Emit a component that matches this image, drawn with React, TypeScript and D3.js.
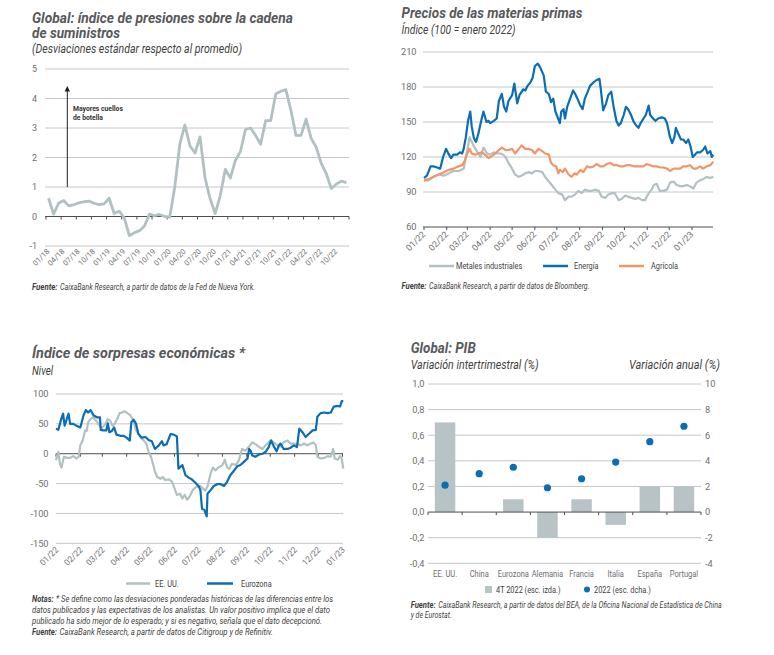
import * as d3 from "d3"

const FONT = "Roboto, 'Noto Sans', sans-serif"
const TITLE = "#58595b"
const DARK = "#3f3f41"
const TEXT = "#6d6e71"
const GRID = "#c4c6c8"
const AXIS = "#4d4d4f"
const BLUE = "#0b6db5"
const ORANGE = "#f2956a"
const GREY_LINE = "#b3c0c2"
const BAR = "#b8c3c5"

// ---------- Global supply chain pressure (monthly, 01/18 - 12/22) ----------
const gscpiValues = [
  0.62, 0.08, 0.45, 0.54, 0.36, 0.4, 0.46, 0.5, 0.52, 0.45, 0.4, 0.43,
  0.62, 0.1, 0.18, -0.05, -0.65, -0.55, -0.48, -0.32, 0.08, 0.03, 0.07, 0.0,
  -0.02, 1.0, 2.45, 3.1, 2.4, 2.15, 2.7, 1.3, 0.6, 0.1, 0.7, 1.6,
  1.3, 1.9, 2.2, 2.95, 3.0, 2.75, 2.45, 3.25, 3.25, 4.15, 4.25, 4.3,
  3.6, 2.75, 2.75, 3.3, 2.65, 2.35, 1.8, 1.45, 0.95, 1.1, 1.2, 1.15,
]
const gscpiTickLabels = [
  "01/18", "04/18", "07/18", "10/18", "01/19", "04/19", "07/19", "10/19",
  "01/20", "04/20", "07/20", "10/20", "01/21", "04/21", "07/21", "10/21",
  "01/22", "04/22", "07/22", "10/22",
]
const gscpiYTicks = [-1, 0, 1, 2, 3, 4, 5]

// ---------- Commodity prices, [days since 1 Jan 2022, index] ----------
const energia: [number, number][] = [
  [0, 102], [4, 104], [9, 112], [13, 112], [18, 111], [22, 110], [26, 120], [30, 127], [34, 122],
  [37, 119], [40, 122], [45, 122], [49, 124], [52, 123], [54, 127], [57, 137], [60, 151], [63, 159],
  [65, 146], [68, 136], [71, 133], [74, 140], [79, 154], [81, 159], [85, 150], [88, 151], [90, 149],
  [95, 151], [99, 153], [102, 168], [106, 174], [109, 163], [112, 159], [115, 168], [120, 173],
  [123, 183], [127, 166], [130, 173], [135, 178], [138, 177], [141, 181], [145, 184], [148, 188],
  [151, 198], [155, 200], [158, 197], [163, 190], [166, 176], [170, 174], [173, 167], [176, 170],
  [179, 159], [182, 154], [185, 149], [187, 159], [190, 161], [192, 153], [195, 163], [199, 170],
  [203, 177], [206, 174], [209, 170], [213, 164], [216, 161], [219, 170], [223, 176], [226, 181],
  [231, 184], [235, 186], [239, 187], [241, 177], [244, 160], [248, 166], [251, 173], [255, 176],
  [258, 164], [262, 151], [265, 147], [268, 149], [272, 156], [275, 163], [278, 161], [282, 156],
  [285, 151], [289, 147], [292, 145], [295, 149], [299, 153], [302, 156], [306, 164], [308, 156],
  [312, 153], [315, 151], [319, 153], [324, 154], [328, 153], [331, 149], [335, 137], [338, 132],
  [341, 137], [343, 145], [347, 139], [350, 135], [353, 135], [357, 132], [360, 135], [363, 129],
  [366, 120], [369, 122], [372, 124], [376, 124], [380, 126], [383, 129], [386, 123], [390, 125],
  [392, 120], [394, 122],
]
const agricola: [number, number][] = [
  [0, 100], [6, 101], [13, 103], [20, 105], [27, 107], [34, 109], [40, 110], [47, 112], [52, 113],
  [55, 116], [59, 123], [62, 127], [65, 123], [70, 122], [74, 123], [79, 124], [83, 122], [88, 119],
  [93, 121], [97, 123], [102, 126], [106, 128], [111, 126], [115, 126], [120, 127], [124, 123],
  [129, 127], [133, 130], [138, 127], [142, 127], [147, 126], [151, 123], [156, 127], [161, 125],
  [165, 123], [170, 122], [173, 115], [176, 113], [180, 112], [183, 106], [185, 109], [189, 107],
  [192, 110], [197, 105], [201, 103], [205, 106], [208, 105], [213, 109], [217, 107], [222, 112],
  [226, 111], [231, 112], [235, 114], [240, 112], [244, 112], [249, 114], [254, 115], [258, 113],
  [263, 113], [267, 112], [272, 112], [276, 113], [281, 113], [285, 112], [290, 112], [294, 112],
  [299, 112], [303, 114], [308, 113], [312, 112], [317, 112], [322, 111], [326, 111], [331, 110],
  [335, 108], [340, 110], [344, 110], [349, 110], [353, 112], [358, 112], [362, 113], [367, 110],
  [371, 110], [376, 112], [380, 110], [385, 112], [390, 113], [394, 116],
]
const metales: [number, number][] = [
  [0, 100], [6, 100], [13, 103], [20, 105], [27, 104], [34, 106], [40, 108], [47, 108], [54, 110],
  [59, 126], [62, 137], [65, 133], [68, 129], [72, 125], [77, 120], [81, 128], [86, 123], [90, 122],
  [95, 124], [99, 123], [104, 123], [108, 122], [112, 119], [115, 115], [120, 110], [124, 105],
  [129, 103], [133, 104], [138, 106], [142, 107], [147, 106], [151, 108], [156, 108], [161, 107],
  [165, 103], [170, 99], [174, 96], [179, 92], [183, 89], [188, 88], [192, 83], [197, 86], [201, 86],
  [206, 88], [210, 91], [215, 89], [219, 92], [224, 91], [229, 91], [233, 92], [238, 91], [242, 86],
  [247, 85], [251, 88], [256, 89], [260, 89], [265, 83], [269, 84], [274, 87], [278, 86], [283, 85],
  [288, 84], [292, 85], [297, 83], [301, 83], [306, 89], [310, 92], [313, 96], [317, 97], [321, 91],
  [326, 91], [331, 92], [335, 98], [340, 99], [344, 96], [349, 95], [353, 95], [358, 96], [362, 95],
  [367, 93], [371, 98], [376, 100], [380, 101], [385, 103], [390, 102], [394, 103],
]
const monthTickLabels = [
  "01/22", "02/22", "03/22", "04/22", "05/22", "06/22", "07/22",
  "08/22", "09/22", "10/22", "11/22", "12/22", "01/23",
]
const commodityYTicks = [60, 90, 120, 150, 180, 210]

// ---------- Economic surprise index, [days since 1 Jan 2022, level] ----------
const eurozona: [number, number][] = [
  [0, 42], [3, 40], [6, 55], [9, 67], [11, 47], [16, 67], [18, 50], [22, 50], [26, 47], [31, 44],
  [35, 64], [38, 73], [41, 69], [44, 73], [48, 64], [52, 61], [56, 61], [57, 40], [60, 39], [64, 39],
  [66, 51], [68, 36], [71, 38], [74, 44], [77, 32], [82, 30], [86, 30], [90, 27], [94, 22], [96, 53],
  [99, 57], [102, 50], [105, 33], [109, 27], [114, 28], [118, 23], [122, 21], [126, 8], [131, 14],
  [135, 21], [137, 14], [141, 16], [146, 33], [150, 32], [154, 29], [156, -25], [161, -19], [165, -36],
  [169, -40], [173, -43], [178, -49], [182, -55], [184, -61], [186, -92], [189, -94], [192, -105],
  [193, -67], [197, -61], [201, -54], [205, -51], [210, -51], [214, -54], [218, -47], [222, -36],
  [227, -28], [231, -21], [235, -19], [239, -14], [244, -8], [246, 8], [248, 5], [250, -3], [254, -5],
  [259, -1], [263, 0], [267, 3], [271, 11], [274, 22], [278, 11], [281, 4], [284, 14], [286, 17],
  [290, 8], [295, 8], [299, 10], [303, 14], [307, 11], [310, 42], [314, 36], [318, 28], [322, 33],
  [327, 39], [331, 40], [333, 62], [337, 68], [342, 69], [346, 68], [350, 69], [354, 79], [359, 80],
  [362, 79], [364, 88], [366, 88],
]
const eeuu: [number, number][] = [
  [0, -11], [3, 3], [5, -17], [7, -23], [10, -5], [14, -7], [18, -7], [22, -4], [26, -8], [29, -5],
  [31, 14], [34, 22], [37, 39], [39, 38], [41, 53], [44, 58], [47, 61], [50, 57], [54, 50], [58, 42],
  [63, 50], [66, 58], [69, 55], [72, 47], [75, 51], [78, 58], [81, 68], [84, 69], [87, 71], [90, 69],
  [95, 64], [99, 54], [102, 39], [105, 34], [108, 27], [112, 22], [115, 17], [118, 3], [121, -5],
  [124, -19], [126, -30], [129, -39], [133, -42], [136, -39], [139, -44], [144, -43], [148, -47],
  [151, -58], [154, -69], [158, -67], [161, -75], [164, -69], [167, -77], [170, -72], [173, -64],
  [176, -58], [180, -55], [184, -54], [187, -58], [190, -62], [193, -55], [197, -33], [200, -23],
  [203, -28], [207, -23], [212, -19], [215, -10], [218, -23], [221, -25], [224, -17], [229, -19],
  [233, -11], [237, 8], [241, 5], [246, 12], [250, 19], [254, 16], [259, 11], [263, 8], [267, 14],
  [271, 19], [274, 23], [278, 18], [282, 14], [286, 12], [290, 19], [295, 22], [299, 17], [303, 17],
  [307, 16], [312, 14], [316, 17], [320, 14], [325, 17], [328, 19], [331, 14], [333, -5], [337, -8],
  [342, -7], [346, -4], [350, -5], [353, 8], [355, -8], [359, -10], [362, -4], [364, -8], [366, -25],
]
const surpriseYTicks = [-150, -100, -50, 0, 50, 100]

// ---------- GDP ----------
const countries = ["EE. UU.", "China", "Eurozona", "Alemania", "Francia", "Italia", "España", "Portugal"]
const gdpQuarter = [0.7, 0.0, 0.1, -0.2, 0.1, -0.1, 0.2, 0.2]
const gdpYear = [2.1, 3.0, 3.5, 1.9, 2.6, 3.9, 5.5, 6.7]
const gdpLeftTicks = [-0.4, -0.2, 0, 0.2, 0.4, 0.6, 0.8, 1.0]
const gdpLeftLabels = ["-0,4", "-0,2", "0,0", "0,2", "0,4", "0,6", "0,8", "1,0"]
const gdpRightTicks = [-4, -2, 0, 2, 4, 6, 8, 10]

const day0 = new Date(2022, 0, 1)
const dayToDate = (d: number) => d3.timeDay.offset(day0, d)

// horizontally condensed text (the original typeface is narrow)
function NText({ x, y, w, s = 0.82, anchor = "start", children, ...rest }: any) {
  return (
    <text transform={`translate(${x},${y}) scale(${s},1)`} textAnchor={anchor}
      textLength={w ? w / s : undefined} lengthAdjust={w ? "spacingAndGlyphs" : undefined} {...rest}>
      {children}
    </text>
  )
}

function Title({ x, y, w, children }: any) {
  return <NText x={x} y={y} w={w} fontSize={14.5} fontWeight={700} fontStyle="italic" fill={TITLE}>{children}</NText>
}

function Sub({ x, y, w, children, anchor = "start" }: any) {
  return <NText x={x} y={y} w={w} anchor={anchor} fontSize={12} fontStyle="italic" fill={DARK}>{children}</NText>
}

// source / notes line: optional bold lead word, then the rest
function Note({ x, y, w, bold, bw = 25, children }: any) {
  const off = bold ? bw + 2.5 : 0
  return (
    <g>
      {bold && <NText x={x} y={y} w={bw} fontSize={9} fontWeight={700} fontStyle="italic" fill={DARK}>{bold}</NText>}
      <NText x={x + off} y={y} w={w - off} fontSize={9} fontStyle="italic" fill={DARK}>{children}</NText>
    </g>
  )
}

function Legend({ x, y, children }: any) {
  return <NText x={x} y={y} fontSize={9} fill={DARK}>{children}</NText>
}

function SupplyChainPanel() {
  const x = d3.scaleLinear().domain([0, 60]).range([46, 349])
  const y = d3.scaleLinear().domain([-1, 5]).range([246, 69])
  const line = d3.line<number>().x((_, i) => x(i + 0.5)).y(d => y(d))
  const ticks = d3.range(0, 61, 3)
  return (
    <g>
      <Title x={32} y={22.5} w={261}>Global: índice de presiones sobre la cadena</Title>
      <Title x={32} y={37.5} w={88}>de suministros</Title>
      <Sub x={32} y={52.5} w={210}>(Desviaciones estándar respecto al promedio)</Sub>
      {gscpiYTicks.filter(v => v !== 0).map(v => (
        <line key={v} x1={45} x2={349} y1={y(v)} y2={y(v)} stroke={GRID} />
      ))}
      {gscpiYTicks.map(v => (
        <text key={v} x={37} y={y(v) + 3.3} fontSize={9} fill={TEXT} textAnchor="end">{v}</text>
      ))}
      <line x1={45} x2={349} y1={y(0)} y2={y(0)} stroke={AXIS} />
      {ticks.map(t => (
        <line key={t} x1={x(t)} x2={x(t)} y1={y(0)} y2={y(0) + 3} stroke={AXIS} />
      ))}
      {gscpiTickLabels.map((l, i) => (
        <text key={l} transform={`translate(${x(i * 3) + 4},${y(-1) + 6}) rotate(-45)`}
          fontSize={7.6} fill={TEXT} textAnchor="end">{l}</text>
      ))}
      <line x1={67.3} x2={67.3} y1={y(1)} y2={91} stroke="#231f20" strokeWidth={1} />
      <path d="M64.6,91.5 L67.3,86 L70,91.5 Z" fill="#231f20" />
      <NText x={73} y={111} s={0.85} fontSize={8} fontWeight={700} fill="#333">Mayores cuellos</NText>
      <NText x={73} y={120} s={0.85} fontSize={8} fontWeight={700} fill="#333">de botella</NText>
      <path d={line(gscpiValues) ?? ""} fill="none" stroke={GREY_LINE} strokeWidth={2.8} strokeLinejoin="round" />
      <Note x={32} y={290} w={223} bold="Fuente:" bw={25.5}>CaixaBank Research, a partir de datos de la Fed de Nueva York.</Note>
    </g>
  )
}

function CommodityPanel() {
  const x = d3.scaleTime().domain([day0, new Date(2023, 0, 1)]).range([424, 692])
  const y = d3.scaleLinear().domain([60, 210]).range([227, 52])
  const line = d3.line<[number, number]>().x(d => x(dayToDate(d[0]))).y(d => y(d[1]))
  const months = d3.timeMonth.range(day0, new Date(2023, 0, 2))
  const series = [
    { data: metales, color: GREY_LINE },
    { data: agricola, color: ORANGE },
    { data: energia, color: BLUE },
  ]
  const legend = [
    { label: "Metales industriales", color: GREY_LINE, x: 429, tx: 456 },
    { label: "Energía", color: BLUE, x: 543, tx: 574 },
    { label: "Agrícola", color: ORANGE, x: 619, tx: 651 },
  ]
  return (
    <g>
      <Title x={401.5} y={18} w={181}>Precios de las materias primas</Title>
      <Sub x={401.5} y={33.5} w={114}>Índice (100 = enero 2022)</Sub>
      {commodityYTicks.filter(v => v !== 60).map(v => (
        <line key={v} x1={423} x2={713} y1={y(v)} y2={y(v)} stroke={GRID} />
      ))}
      {commodityYTicks.map(v => (
        <text key={v} x={416.5} y={y(v) + 3.3} fontSize={9.2} fill={TEXT} textAnchor="end">{v}</text>
      ))}
      <line x1={423} x2={713} y1={y(60)} y2={y(60)} stroke={AXIS} />
      {months.map((m, i) => (
        <g key={i}>
          <line x1={x(m)} x2={x(m)} y1={y(60)} y2={y(60) + 3} stroke={AXIS} />
          <text transform={`translate(${x(m) + 2},${y(60) + 8}) rotate(-45)`} fontSize={8.8}
            fill={TEXT} textAnchor="end">{monthTickLabels[i]}</text>
        </g>
      ))}
      {series.map((s, i) => (
        <path key={i} d={line(s.data) ?? ""} fill="none" stroke={s.color} strokeWidth={2.2} strokeLinejoin="round" />
      ))}
      {legend.map(l => (
        <g key={l.label}>
          <line x1={l.x} x2={l.x + 25} y1={266} y2={266} stroke={l.color} strokeWidth={2.5} />
          <Legend x={l.tx} y={269}>{l.label}</Legend>
        </g>
      ))}
      <Note x={401.5} y={288.5} w={188} bold="Fuente:">CaixaBank Research, a partir de datos de Bloomberg.</Note>
    </g>
  )
}

function SurprisePanel() {
  const x = d3.scaleTime().domain([day0, new Date(2023, 0, 1)]).range([56, 342.5])
  const y = d3.scaleLinear().domain([-150, 100]).range([543.3, 394])
  const line = d3.line<[number, number]>().x(d => x(dayToDate(d[0]))).y(d => y(d[1]))
  const months = d3.timeMonth.range(day0, new Date(2023, 0, 2))
  return (
    <g>
      <Title x={32} y={358} w={213}>Índice de sorpresas económicas *</Title>
      <Sub x={32} y={375}>Nivel</Sub>
      {surpriseYTicks.filter(v => v !== 0).map(v => (
        <line key={v} x1={56} x2={343} y1={y(v)} y2={y(v)} stroke={GRID} />
      ))}
      {surpriseYTicks.map(v => (
        <text key={v} x={48.5} y={y(v) + 3.3} fontSize={9.2} fill={TEXT} textAnchor="end">{v}</text>
      ))}
      <line x1={56} x2={343} y1={y(0)} y2={y(0)} stroke={AXIS} />
      {months.map((m, i) => (
        <g key={i}>
          <line x1={x(m)} x2={x(m)} y1={y(0)} y2={y(0) + 3} stroke={AXIS} />
          <text transform={`translate(${x(m) + 3},${y(-150) + 7}) rotate(-45)`} fontSize={8.4}
            fill={TEXT} textAnchor="end">{monthTickLabels[i]}</text>
        </g>
      ))}
      <path d={line(eeuu) ?? ""} fill="none" stroke={GREY_LINE} strokeWidth={2.2} strokeLinejoin="round" />
      <path d={line(eurozona) ?? ""} fill="none" stroke={BLUE} strokeWidth={2.2} strokeLinejoin="round" />
      <line x1={126} x2={150} y1={583.5} y2={583.5} stroke={GREY_LINE} strokeWidth={2.5} />
      <Legend x={155} y={586.5}>EE. UU.</Legend>
      <line x1={207} x2={233} y1={583.5} y2={583.5} stroke={BLUE} strokeWidth={2.5} />
      <Legend x={241} y={586.5}>Eurozona</Legend>
      <Note x={32} y={602} w={301} bold="Notas:" bw={21.5}>* Se define como las desviaciones ponderadas  históricas de las diferencias entre los</Note>
      <Note x={32} y={613} w={298}>datos publicados y las expectativas de los analistas. Un valor positivo implica que el dato</Note>
      <Note x={32} y={624} w={290}>publicado ha sido mejor de lo esperado; y si es negativo, señala que el dato decepcionó.</Note>
      <Note x={32} y={635} w={241} bold="Fuente:">CaixaBank Research, a partir de datos de Citigroup y de Refinitiv.</Note>
    </g>
  )
}

function GdpPanel() {
  const x = d3.scaleBand().domain(countries).range([428, 701]).paddingInner(0.4).paddingOuter(0.2)
  const yL = d3.scaleLinear().domain([-0.4, 1.0]).range([563.3, 384])
  const yR = d3.scaleLinear().domain([-4, 10]).range([563.3, 384])
  const step = x.step()
  const cx = (c: string) => (x(c) ?? 0) + x.bandwidth() / 2
  return (
    <g>
      <Title x={410.7} y={353} w={65}>Global: PIB</Title>
      <Sub x={410.7} y={369} w={128}>Variación intertrimestral (%)</Sub>
      <Sub x={720} y={369} w={91} anchor="end">Variación anual (%)</Sub>
      {gdpLeftTicks.filter(v => v !== 0).map(v => (
        <line key={v} x1={428} x2={701} y1={yL(v)} y2={yL(v)} stroke={GRID} />
      ))}
      {gdpLeftTicks.map((v, i) => (
        <text key={v} x={424.5} y={yL(v) + 3.3} fontSize={9.2} fill={TEXT} textAnchor="end">{gdpLeftLabels[i]}</text>
      ))}
      {gdpRightTicks.map(v => (
        <text key={v} x={705} y={yR(v) + 3.3} fontSize={9.2} fill={TEXT}>{v}</text>
      ))}
      {countries.map((c, i) => (
        <rect key={c} x={x(c)} width={x.bandwidth()}
          y={yL(Math.max(0, gdpQuarter[i]))} height={Math.abs(yL(gdpQuarter[i]) - yL(0))} fill={BAR} />
      ))}
      <line x1={428} x2={701} y1={yL(0)} y2={yL(0)} stroke={AXIS} />
      {d3.range(0, 9).map(k => (
        <line key={k} x1={428 + k * step} x2={428 + k * step} y1={yL(0)} y2={yL(0) + 3} stroke={AXIS} />
      ))}
      {countries.map((c, i) => (
        <circle key={c} cx={cx(c)} cy={yR(gdpYear[i])} r={3.6} fill={BLUE} />
      ))}
      {countries.map(c => (
        <NText key={c} x={cx(c)} y={576.5} s={0.8} anchor="middle" fontSize={9.4} fill={TEXT}>{c}</NText>
      ))}
      <rect x={485} y={586} width={7} height={7} fill={BAR} />
      <Legend x={496} y={592.5}>4T 2022 (esc. izda.)</Legend>
      <circle cx={587} cy={589.5} r={3} fill={BLUE} />
      <Legend x={594} y={592.5}>2022 (esc. dcha.)</Legend>
      <Note x={410.7} y={607.5} w={311} bold="Fuente:">CaixaBank Research, a partir de datos del BEA, de la Oficina Nacional de Estadística de China</Note>
      <Note x={410.7} y={618} w={41}>y de Eurostat.</Note>
    </g>
  )
}

export default function App() {
  return (
    <svg width={774} height={655} viewBox="0 0 774 655" fontFamily={FONT}
      style={{ position: "absolute", left: 0, top: 0, background: "#fff" }}>
      <rect width={774} height={655} fill="#fff" />
      <SupplyChainPanel />
      <CommodityPanel />
      <SurprisePanel />
      <GdpPanel />
    </svg>
  )
}
